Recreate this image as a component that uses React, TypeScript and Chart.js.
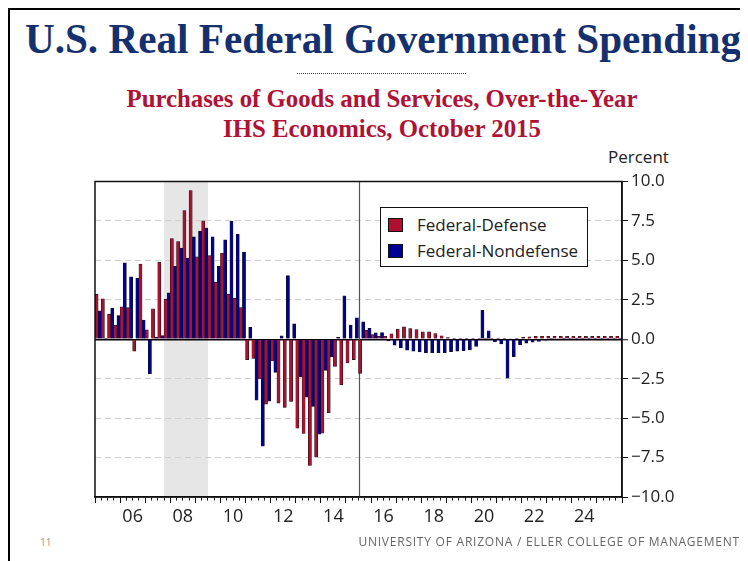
import React, { useEffect, useRef } from 'react';
import { Chart, registerables } from 'chart.js';

Chart.register(...registerables);

// ---- data ----
const firstYear = 2005;
const lastYear = 2026; // axis end (exclusive year)
const quarters: string[] = [];
for (let y = firstYear; y < lastYear; y++) for (let q = 1; q <= 4; q++) quarters.push(`${y} Q${q}`);

const seriesNames = ['Federal-Defense', 'Federal-Nondefense'];
const seriesColors = ['#B01030', '#000094'];

const defense = [
  2.84, 2.56, 1.59, 0.89,
  2.05, 2.0, -0.76, 4.77,
  0.59, 1.93, 4.87, 2.54,
  6.38, 6.19, 8.16, 9.43,
  5.23, 7.5, 5.3, 3.62,
  5.47, 2.86, 2.6, 2.01,
  -1.29, -1.21, -2.52, -4.11,
  -1.38, -4.05, -4.32, -3.94,
  -5.64, -5.97, -8.0, -7.46,
  -5.95, -4.66, -1.72, -2.88,
  -1.5, -1.29, -2.16, 0.57,
  0.3, 0.19, 0.19, 0.35,
  0.64, 0.78, 0.68, 0.61,
  0.47, 0.47, 0.36, 0.21,
  0.1, 0.04, 0.03, 0.03,
  0.03, 0.03, 0.03, 0.03,
  0.03, 0.03, 0.05, 0.08,
  0.12, 0.15, 0.19, 0.19,
  0.19, 0.19, 0.19, 0.19,
  0.19, 0.19, 0.19, 0.19,
  0.19, 0.19, 0.19, 0.19,
];

const nondefense = [
  1.8, 0.06, 1.97, 1.5,
  4.85, 3.96, 3.86, 1.21,
  -2.2, 0.13, 0.23, 2.94,
  4.62, 5.78, 5.15, 6.5,
  6.86, 7.05, 6.5, 4.62,
  6.31, 7.48, 6.65, 5.53,
  0.76, -3.86, -6.78, -3.92,
  -2.1, 0.21, 4.03, 0.97,
  -2.39, -3.67, -4.26, -6.02,
  -1.97, -1.12, 0.13, 2.75,
  0.89, 1.36, 1.1, 0.7,
  0.4, 0.42, -0.1, -0.38,
  -0.55, -0.7, -0.76, -0.8,
  -0.85, -0.85, -0.85, -0.85,
  -0.78, -0.76, -0.72, -0.66,
  -0.45, 1.84, 0.53, -0.15,
  -0.3, -2.46, -1.1, -0.34,
  -0.25, -0.19, -0.13, -0.06,
  0.03, 0.05, 0.06, 0.06,
  0.06, 0.06, 0.06, 0.06,
  0.06, 0.06, 0.06, 0.06,
];

const labelYears = [2006, 2008, 2010, 2012, 2014, 2016, 2018, 2020, 2022, 2024];
const yearTickLabels = ['06', '08', '10', '12', '14', '16', '18', '20', '22', '24'];
const recessionStart = 2007.75;
const recessionEnd = 2009.5;
const forecastStart = 2015.5;

const quarterPos = (i: number) => firstYear + i / 4 + 0.125;

const FONT = "'Open Sans', 'DejaVu Sans', sans-serif";
const SERIF = "'Liberation Serif', 'Times New Roman', serif";

const decorPlugin = {
  id: 'decor',
  beforeDraw(chart: any) {
    const { ctx, chartArea: a, scales } = chart;
    const x = scales.x;
    const x1 = x.getPixelForValue(recessionStart);
    const x2 = x.getPixelForValue(recessionEnd);
    ctx.save();
    ctx.fillStyle = '#e6e6e6';
    ctx.fillRect(x1, a.top, x2 - x1, a.bottom - a.top);
    ctx.restore();
  },
  beforeDatasetsDraw(chart: any) {
    const { ctx, chartArea: a, scales } = chart;
    const xp = Math.round(scales.x.getPixelForValue(forecastStart)) + 0.5;
    ctx.save();
    ctx.strokeStyle = '#555';
    ctx.lineWidth = 1.2;
    ctx.beginPath();
    ctx.moveTo(xp, a.top);
    ctx.lineTo(xp, a.bottom);
    ctx.stroke();
    ctx.restore();
  },
  afterDatasetsDraw(chart: any) {
    const { ctx, chartArea: a } = chart;
    ctx.save();
    ctx.strokeStyle = '#111';
    ctx.lineWidth = 1.5;
    ctx.strokeRect(a.left, a.top, a.right - a.left, a.bottom - a.top);
    ctx.restore();
  },
};

function ChartCanvas() {
  const ref = useRef<HTMLCanvasElement>(null);
  useEffect(() => {
    const chart = new Chart(ref.current as HTMLCanvasElement, {
      type: 'bar',
      data: {
        datasets: [defense, nondefense].map((vals, k) => ({
          label: seriesNames[k],
          data: vals.map((v, i) => ({ x: quarterPos(i), y: v })),
          backgroundColor: seriesColors[k],
          borderColor: '#111',
          borderWidth: 0.6,
          barPercentage: 1,
          categoryPercentage: 1,
        })),
      },
      options: {
        animation: false,
        responsive: false,
        maintainAspectRatio: false,
        layout: { padding: { left: 5, top: 11, right: 0, bottom: 0 } },
        plugins: { legend: { display: false }, tooltip: { enabled: false }, title: { display: false } },
        scales: {
          x: {
            type: 'linear',
            position: 'bottom',
            min: firstYear,
            max: lastYear,
            offset: false,
            afterFit: (s: any) => { s.height = 43; },
            ticks: {
              stepSize: 0.25,
              autoSkip: false,
              maxRotation: 0,
              minRotation: 0,
              padding: 5,
              color: '#222',
              font: { family: FONT, size: 18, lineHeight: 1 },
              callback: (value: any) => {
                const v = Number(value);
                const i = labelYears.findIndex((y) => Math.abs(y + 0.5 - v) < 1e-6);
                return i >= 0 ? yearTickLabels[i] : '';
              },
            },
            grid: {
              display: true,
              offset: false,
              drawOnChartArea: false,
              drawTicks: true,
              tickLength: 6,
              tickColor: '#111',
              tickWidth: 1,
              tickBorderDash: (ctx: any) => {
                const t = ctx.tick;
                if (!t) return [];
                return Math.abs(t.value - Math.round(t.value)) < 1e-6 ? [] : [3, 30];
              },
            } as any,
            border: { display: true, color: '#111', width: 1.5 },
          },
          y: {
            type: 'linear',
            position: 'right',
            min: -10,
            max: 10,
            afterFit: (s: any) => { s.width = 88; },
            ticks: {
              stepSize: 2.5,
              padding: 3,
              color: '#222',
              font: { family: FONT, size: 17, lineHeight: 1 },
              callback: (value: any) => Number(value).toFixed(1).replace('-', '\u2212'),
            },
            grid: {
              color: (ctx: any) => {
                const v = ctx.tick ? ctx.tick.value : 1;
                if (v === 0) return '#000';
                if (Math.abs(v) === 10) return 'rgba(0,0,0,0)';
                return '#cfcfcf';
              },
              lineWidth: (ctx: any) => (ctx.tick && ctx.tick.value === 0 ? 1.5 : 1),
              drawTicks: true,
              tickLength: 6,
              tickColor: '#111',
              tickWidth: 1,
            } as any,
            border: {
              display: true,
              color: '#111',
              width: 1.5,
              dash: (ctx: any) => (ctx.tick && ctx.tick.value !== 0 ? [6, 4] : []),
            } as any,
          },
        },
      },
      plugins: [decorPlugin],
    } as any);
    return () => chart.destroy();
  }, []);
  return (
    <canvas
      ref={ref}
      width={620}
      height={370}
      style={{ position: 'absolute', left: 80, top: 160, width: 620, height: 370 }}
    />
  );
}

export default function App() {
  return (
    <div
      style={{
        position: 'relative',
        width: 732,
        height: 553,
        borderLeft: '2px solid #000',
        borderTop: '2px solid #000',
        boxSizing: 'border-box',
        background: '#fff',
      }}
    >
      <style>{'html,body{overflow:hidden;background:#fff}'}</style>
      <div
        style={{
          position: 'absolute',
          left: 373,
          top: 7.5,
          transform: 'translateX(-50%)',
          whiteSpace: 'nowrap',
          fontFamily: SERIF,
          fontWeight: 'bold',
          fontSize: 41.2,
          lineHeight: '42px',
          color: '#14306e',
        }}
      >
        U.S. Real Federal Government Spending
      </div>
      <div
        style={{
          position: 'absolute',
          left: 287,
          top: 63,
          width: 169,
          borderTop: '1.5px dotted #AF1234',
        }}
      />
      <div
        style={{
          position: 'absolute',
          left: 372,
          top: 74,
          transform: 'translateX(-50%)',
          whiteSpace: 'nowrap',
          textAlign: 'center',
          fontFamily: SERIF,
          fontWeight: 'bold',
          fontSize: 24.8,
          lineHeight: '30px',
          color: '#AF1234',
        }}
      >
        <div>Purchases of Goods and Services, Over-the-Year</div>
        <div>IHS Economics, October 2015</div>
      </div>
      <div
        style={{
          position: 'absolute',
          left: 598,
          top: 137,
          fontFamily: FONT,
          fontSize: 17,
          lineHeight: '20px',
          color: '#222',
        }}
      >
        Percent
      </div>
      <ChartCanvas />
      <div
        style={{
          position: 'absolute',
          left: 370,
          top: 197,
          width: 208,
          height: 60,
          boxSizing: 'border-box',
          border: '1px solid #111',
          background: '#fff',
          fontFamily: FONT,
          fontSize: 17,
          color: '#222',
        }}
      >
        {seriesNames.map((name, k) => (
          <div
            key={name}
            style={{ position: 'absolute', left: 7, top: 7 + k * 26, height: 20, display: 'flex', alignItems: 'center' }}
          >
            <span
              style={{
                display: 'inline-block',
                width: 15,
                height: 14,
                background: seriesColors[k],
                border: '1px solid #111',
                boxSizing: 'border-box',
                marginRight: 14,
              }}
            />
            <span style={{ lineHeight: '20px' }}>{name}</span>
          </div>
        ))}
      </div>
      <div
        style={{
          position: 'absolute',
          left: 30,
          top: 525,
          fontFamily: FONT,
          fontSize: 10,
          lineHeight: '14px',
          color: '#999',
        }}
      >
        11
      </div>
      <div
        style={{
          position: 'absolute',
          right: 0,
          top: 524,
          whiteSpace: 'nowrap',
          fontFamily: FONT,
          fontSize: 12,
          lineHeight: '16px',
          letterSpacing: 0.77,
          color: '#666',
        }}
      >
        UNIVERSITY OF ARIZONA / ELLER COLLEGE OF MANAGEMENT
      </div>
    </div>
  );
}
